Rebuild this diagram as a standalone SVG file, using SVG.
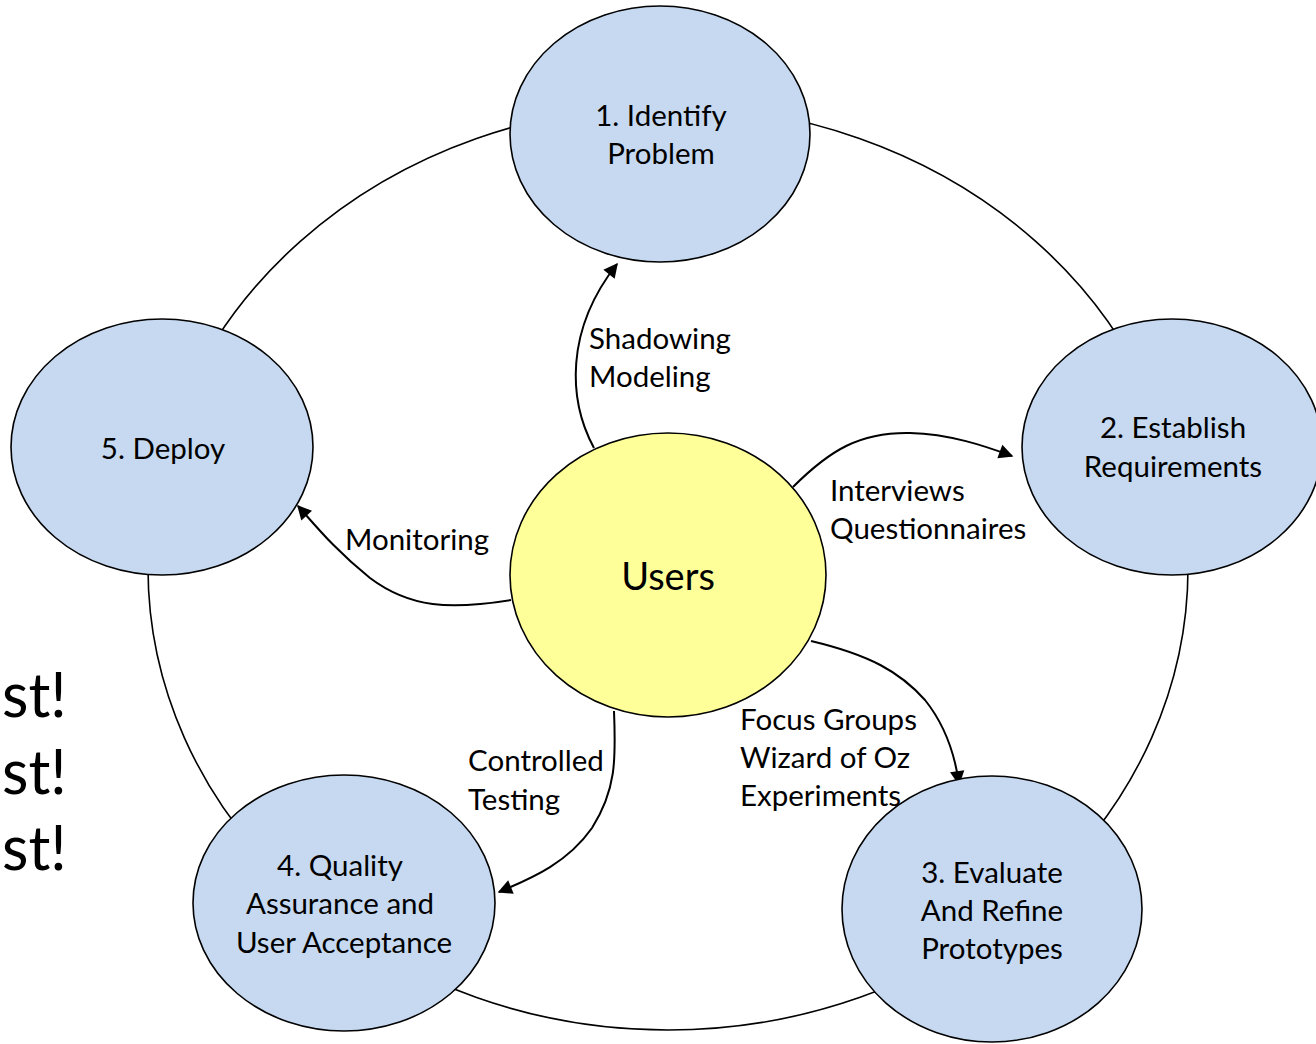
<svg xmlns="http://www.w3.org/2000/svg" width="1316" height="1044" viewBox="0 0 1316 1044">
<style>
.n{fill:#c6d9f1;stroke:#000;stroke-width:1.6}
.u{fill:#ffff99;stroke:#000;stroke-width:1.6}
.t{font-family:Lato,"Liberation Sans",sans-serif;font-size:29.5px;fill:#000}
.c{text-anchor:middle}
.e{fill:none;stroke:#000;stroke-width:2;marker-end:url(#ah)}
</style>
<defs>
<marker id="ah" viewBox="0 0 10 10" refX="9" refY="5" markerWidth="8" markerHeight="8" markerUnits="userSpaceOnUse" orient="auto" style="overflow:visible">
<path d="M0,0 L10,5 L0,10 z" fill="#000" transform="scale(1.8) translate(-4,-2.2)"/>
</marker>
</defs>
<rect width="1316" height="1044" fill="#fff"/>
<g id="side-text" class="t" style="font-size:61px">
<text x="2" y="717">st!</text>
<text x="2" y="794">st!</text>
<text x="2" y="870">st!</text>
</g>
<g id="ring"><ellipse cx="668" cy="568" rx="520" ry="462" fill="none" stroke="#000" stroke-width="1.6"/></g>
<g id="connectors">
<path class="e" d="M594,448 C568,400 565,330 617,264"/>
<path class="e" d="M793,487 C830,450 860,432 910,433 C950,434 985,446 1012,456"/>
<path class="e" d="M511,600 C450,610 410,608 370,578 C335,550 315,525 298,506"/>
<path class="e" d="M614,711 C616,760 616,790 592,828 C568,862 535,877 499,892"/>
<path class="e" d="M811,641 C870,655 900,672 925,700 C945,725 955,755 959,784"/>
</g>
<g id="labels" class="t">
<text x="589" y="349">Shadowing</text>
<text x="589" y="387">Modeling</text>
<text x="830" y="501">Interviews</text>
<text x="830" y="539">Questionnaires</text>
<text x="345" y="550">Monitoring</text>
<text x="468" y="771">Controlled</text>
<text x="468" y="810">Testing</text>
<text x="740" y="730">Focus Groups</text>
<text x="740" y="768">Wizard of Oz</text>
<text x="740" y="806">Experiments</text>
</g>
<g id="node1"><ellipse class="n" cx="660" cy="134" rx="150" ry="128"/>
<text class="t c" x="661" y="126">1. Identify</text><text class="t c" x="661" y="164">Problem</text></g>
<g id="node2"><ellipse class="n" cx="1172" cy="447" rx="150" ry="128"/>
<text class="t c" x="1173" y="438">2. Establish</text><text class="t c" x="1173" y="477">Requirements</text></g>
<g id="node3"><ellipse class="n" cx="992" cy="909" rx="150" ry="133"/>
<text class="t c" x="992" y="883">3. Evaluate</text><text class="t c" x="992" y="921">And Refine</text><text class="t c" x="992" y="959">Prototypes</text></g>
<g id="node4"><ellipse class="n" cx="344" cy="903" rx="151" ry="128"/>
<text class="t c" x="340" y="876">4. Quality</text><text class="t c" x="340" y="914">Assurance and</text><text class="t c" x="344" y="953">User Acceptance</text></g>
<g id="node5"><ellipse class="n" cx="162" cy="447" rx="151" ry="128"/>
<text class="t c" x="163" y="459">5. Deploy</text></g>
<g id="users"><ellipse class="u" cx="668" cy="575" rx="158" ry="142"/>
<text class="t c" x="668" y="590" style="font-size:38px">Users</text></g>
</svg>
